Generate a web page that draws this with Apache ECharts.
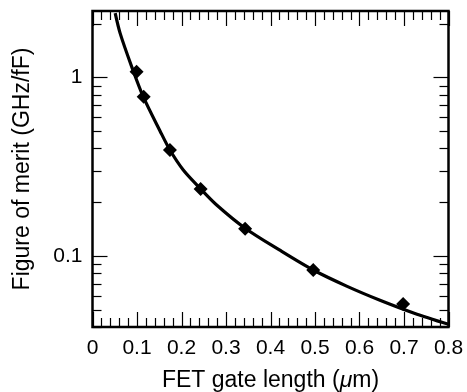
<!DOCTYPE html>
<html>
<head>
<meta charset="utf-8">
<title>Figure of merit vs FET gate length</title>
<script src="https://cdn.jsdelivr.net/npm/echarts@6/dist/echarts.min.js"></script>
<style>
  html, body { margin: 0; padding: 0; background: #fff; }
  #chart { width: 467px; height: 392px; }
</style>
</head>
<body>
<div id="chart"></div>
<script>
// Measured devices: gate length (µm) and figure of merit (GHz/fF)
const gateLength = [0.099, 0.115, 0.174, 0.243, 0.343, 0.496, 0.698];
const figureOfMerit = [1.076, 0.779, 0.392, 0.237, 0.142, 0.0834, 0.0538];

// Fitted trend curve
const fitLength = [0.051, 0.062, 0.088, 0.114, 0.152, 0.174, 0.204, 0.242,
                   0.279, 0.343, 0.420, 0.496, 0.571, 0.646, 0.723, 0.800];
const fitMerit = [2.29, 1.77, 1.15, 0.780, 0.500, 0.392, 0.303, 0.239,
                  0.193, 0.143, 0.108, 0.0834, 0.0678, 0.0565, 0.0478, 0.0414];

// Tick values (major ticks are drawn longer)
const xMajorTicks = [0, 0.1, 0.2, 0.3, 0.4, 0.5, 0.6, 0.7, 0.8];
const xMinorTicks = [0.02, 0.04, 0.06, 0.08, 0.12, 0.14, 0.16, 0.18,
                     0.22, 0.24, 0.26, 0.28, 0.32, 0.34, 0.36, 0.38,
                     0.42, 0.44, 0.46, 0.48, 0.52, 0.54, 0.56, 0.58,
                     0.62, 0.64, 0.66, 0.68, 0.72, 0.74, 0.76, 0.78];
const yMajorTicks = [0.1, 1];
const yMinorTicks = [0.04, 0.05, 0.06, 0.07, 0.08, 0.09,
                     0.2, 0.3, 0.4, 0.5, 0.6, 0.7, 0.8, 0.9, 2];
const yTickLabels = [0.1, 1];

const FONT = "'Liberation Sans', Arial, Helvetica, sans-serif";
const X_MIN = 0, X_MAX = 0.8;
const Y_MIN = 0.04, Y_MAX = 2.355;
const MAJOR_LEN = 15, MINOR_LEN = 9;

const xTickData = xMajorTicks.map(v => [v, Y_MIN, 1])
  .concat(xMinorTicks.map(v => [v, Y_MIN, 0]));
const yTickData = yMajorTicks.map(v => [X_MIN, v, 1])
  .concat(yMinorTicks.map(v => [X_MIN, v, 0]));

// Inward ticks on the bottom and top edges of the plot frame
function renderXTick(params, api) {
  const cs = params.coordSys;
  const x = Math.round(api.coord([api.value(0), Y_MIN])[0]) + 0.5;
  const len = api.value(2) ? MAJOR_LEN : MINOR_LEN;
  const top = cs.y, bottom = cs.y + cs.height;
  return {
    type: 'group',
    children: [
      { type: 'rect', shape: { x: x - 0.6, y: bottom - len, width: 1.2, height: len }, style: { fill: '#000' } },
      { type: 'rect', shape: { x: x - 0.6, y: top, width: 1.2, height: len }, style: { fill: '#000' } }
    ]
  };
}

// Inward ticks on the left and right edges of the plot frame
function renderYTick(params, api) {
  const cs = params.coordSys;
  const y = Math.round(api.coord([X_MIN, api.value(1)])[1]) + 0.5;
  const len = api.value(2) ? MAJOR_LEN : MINOR_LEN;
  const left = cs.x, right = cs.x + cs.width;
  return {
    type: 'group',
    children: [
      { type: 'rect', shape: { x: left, y: y - 0.6, width: len, height: 1.2 }, style: { fill: '#000' } },
      { type: 'rect', shape: { x: right - len, y: y - 0.6, width: len, height: 1.2 }, style: { fill: '#000' } }
    ]
  };
}

const chart = echarts.init(document.getElementById('chart'), null, { renderer: 'canvas' });
chart.setOption({
  animation: false,
  backgroundColor: '#fff',
  grid: {
    left: 92.5, right: 18.5, top: 11, bottom: 65,
    containLabel: false, outerBoundsMode: 'none',
    show: true, borderColor: '#000', borderWidth: 2.5, backgroundColor: 'transparent'
  },
  xAxis: {
    type: 'value', min: X_MIN, max: X_MAX, interval: 0.1,
    axisLine: { show: false }, axisTick: { show: false },
    splitLine: { show: false },
    axisLabel: { color: '#000', fontFamily: FONT, fontSize: 21, margin: 11 },
    name: 'FET gate length ({i|μ}m)',
    nameLocation: 'middle', nameGap: 42,
    nameTextStyle: {
      color: '#000', fontFamily: FONT, fontSize: 23,
      rich: { i: { fontStyle: 'italic', fontFamily: FONT, fontSize: 23, color: '#000' } }
    }
  },
  yAxis: {
    type: 'log', logBase: 10, min: Y_MIN, max: Y_MAX,
    axisLine: { show: false }, axisTick: { show: false },
    splitLine: { show: false }, minorTick: { show: false },
    axisLabel: {
      customValues: yTickLabels, color: '#000', fontFamily: FONT, fontSize: 21, margin: 10,
      padding: [5, 0, 0, 0],
      formatter: v => String(Math.round(v * 1000) / 1000)
    },
    name: 'Figure of merit (GHz/fF)',
    nameLocation: 'middle', nameGap: 58,
    nameTextStyle: { color: '#000', fontFamily: FONT, fontSize: 23 }
  },
  series: [
    {
      name: 'xTicks', type: 'custom', renderItem: renderXTick,
      data: xTickData, silent: true, clip: false, z: 5
    },
    {
      name: 'yTicks', type: 'custom', renderItem: renderYTick,
      data: yTickData, silent: true, clip: false, z: 5
    },
    {
      name: 'fit', type: 'line',
      data: fitLength.map((x, i) => [x, fitMerit[i]]),
      smooth: 0.3, showSymbol: false, clip: true,
      lineStyle: { color: '#000', width: 3.2 }, z: 2
    },
    {
      name: 'measured', type: 'scatter',
      data: gateLength.map((x, i) => [x, figureOfMerit[i]]),
      symbol: 'diamond', symbolSize: 14,
      itemStyle: { color: '#000', opacity: 1 }, z: 3
    }
  ]
});
</script>
</body>
</html>
